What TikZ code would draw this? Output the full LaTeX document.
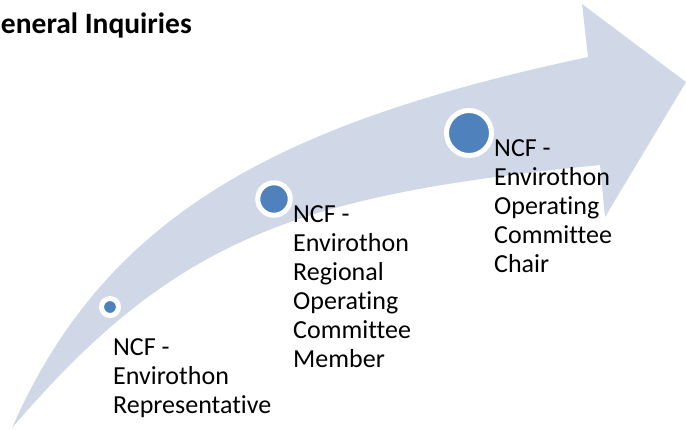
\documentclass[tikz,border=0pt]{standalone}
\usepackage{fontspec}
\setmainfont{Carlito}[Ligatures={NoCommon,NoContextual}]
\usetikzlibrary{positioning}
\definecolor{arrowfill}{RGB}{208,216,232}
\definecolor{dotblue}{RGB}{79,129,189}
\tikzset{
  lbl/.style={anchor=base west, align=left, inner sep=0pt, font=\fontsize{26}{29}\selectfont},
  dot/.style={circle, fill=dotblue, draw=white, line width=5pt, inner sep=0pt}
}

\begin{document}
\begin{tikzpicture}[x=1pt,y=-1pt]
\useasboundingbox (0,0) rectangle (686,429);
\clip (0,0) rectangle (686,429);

\fill[arrowfill] (12,428) .. controls (106.5,212) and (283,122) .. (588,57) -- (582,4) -- (686,82) -- (605,217) -- (600,165) .. controls (300,195) and (176,236) .. (12,428) -- cycle;

\node[dot, minimum size=17pt] (dotA) at (110,307) {};
\node[dot, minimum size=32.5pt] (dotB) at (274,199) {};
\node[dot, minimum size=45pt] (dotC) at (469,133) {};

\node[lbl] (repA) at (113,413) {NCF -\\Envirothon\\Representative};
\node[lbl] (repB) at (293,367) {NCF -\\Envirothon\\Regional\\Operating\\Committee\\Member};
\node[lbl] (repC) at (494,272) {NCF -\\Envirothon\\Operating\\Committee\\Chair};

\node[anchor=base east, inner sep=0pt, font=\fontsize{29.5}{34}\selectfont\bfseries] (title) at (192,33) {General Inquiries};
\end{tikzpicture}
\end{document}
